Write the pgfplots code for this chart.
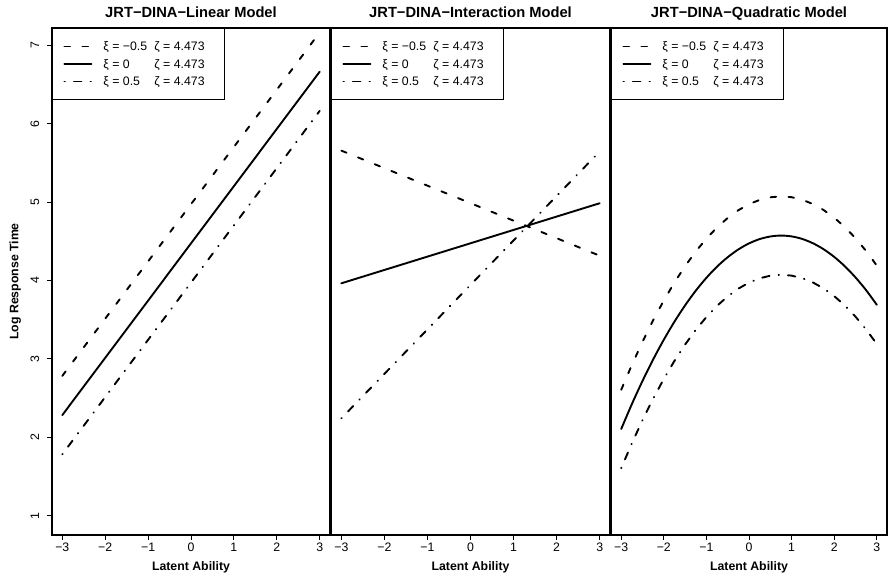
\documentclass[border=0pt]{standalone}
\usepackage{fontspec}
\setmainfont{Liberation Sans}
\usepackage{pgfplots}
\pgfplotsset{compat=1.18}

\newcommand{\lentry}[2]{\makebox[110bp][l]{\makebox[51bp][l]{#1}#2}}
\pgfplotsset{
  panel/.style={
    scale only axis, height=507bp, anchor=south west,
    xmin=-3.24, xmax=3.24, ymin=0.754, ymax=7.22,
    axis line style={line width=1.4bp},
    tick align=outside, xtick pos=left, ytick pos=left,
    major tick length=5bp,
    every tick/.style={black, line width=0.9bp},
    xtick={-3,-2,-1,0,1,2,3},
    xticklabels={−3,−2,−1,0,1,2,3},
    xticklabel style={font=\fontsize{12.3bp}{14bp}\selectfont, anchor=base, inner sep=0pt},
    xticklabel shift=11.4bp,
    title style={at={(0.5,1)}, anchor=base, yshift=4.7bp, inner sep=0pt,
      font=\bfseries\fontsize{14.7bp}{17bp}\selectfont},
    every axis x label/.style={at={(axis description cs:0.5,0)}, anchor=base,
      yshift=-35bp, inner sep=0pt, font=\bfseries\fontsize{12.3bp}{14bp}\selectfont},
    xlabel={Latent Ability},
    legend image code/.code={\draw[#1] (0bp,0bp) -- (27bp,0bp);},
    legend style={at={(0,1)}, anchor=north west, draw=black, line width=1bp,
      fill=white, inner xsep=11bp, inner ysep=9.25bp, row sep=0pt,
      font=\fontsize{12.3bp}{14bp}\selectfont,
      nodes={inner sep=0pt, text height=13.15bp, text depth=4.35bp},
      /tikz/every odd column/.append style={column sep=11bp}},
    legend cell align=left,
  },
  dashedR/.style={black, line width=1.9bp, line cap=round, dash pattern=on 5.6bp off 12.4bp},
  solidR/.style={black, line width=1.9bp, line cap=round},
  dotdashR/.style={black, line width=1.9bp, line cap=round, dash pattern=on 0.5bp off 9bp on 7.5bp off 9bp},
}

\begin{document}
\begin{tikzpicture}
\path[use as bounding box] (0,0) rectangle (888bp,576bp);

% Panel 1: Linear
\begin{axis}[panel, at={(52bp,41bp)}, width=278bp,
  title={JRT−DINA−Linear Model},
  ytick={1,2,3,4,5,6,7},
  yticklabels={1,2,3,4,5,6,7},
  yticklabel style={font=\fontsize{12.3bp}{14bp}\selectfont, rotate=90, anchor=base, inner sep=0pt},
  yticklabel shift=8bp,
  every axis y label/.style={at={(axis description cs:0,0.5)}, xshift=-33.6bp, rotate=90, anchor=base,
    inner sep=0pt, font=\bfseries\fontsize{12.3bp}{14bp}\selectfont},
  ylabel={Log Response Time},
]
\addplot[dashedR] coordinates {(-3,2.783) (3,7.163)};
\addlegendentry{\lentry{ξ = −0.5}{ζ = 4.473}}
\addplot[solidR] coordinates {(-3,2.283) (3,6.663)};
\addlegendentry{\lentry{ξ = 0}{ζ = 4.473}}
\addplot[dotdashR] coordinates {(-3,1.783) (3,6.163)};
\addlegendentry{\lentry{ξ = 0.5}{ζ = 4.473}}
\end{axis}

% Panel 2: Interaction
\begin{axis}[panel, at={(331bp,41bp)}, width=279bp,
  title={JRT−DINA−Interaction Model},
  ytick=\empty,
]
\addplot[dashedR] coordinates {(-3,5.656) (3,4.316)};
\addlegendentry{\lentry{ξ = −0.5}{ζ = 4.473}}
\addplot[solidR] coordinates {(-3,3.964) (3,4.985)};
\addlegendentry{\lentry{ξ = 0}{ζ = 4.473}}
\addplot[dotdashR] coordinates {(-3,2.242) (3,5.645)};
\addlegendentry{\lentry{ξ = 0.5}{ζ = 4.473}}
\end{axis}

% Panel 3: Quadratic
\begin{axis}[panel, at={(611bp,41bp)}, width=276bp,
  title={JRT−DINA−Quadratic Model},
  ytick=\empty,
]
\addplot[dashedR] coordinates {
(-3,2.606) (-2.75,2.924) (-2.5,3.219) (-2.25,3.493) (-2,3.745) (-1.75,3.975)
(-1.5,4.183) (-1.25,4.370) (-1,4.534) (-0.75,4.677) (-0.5,4.797) (-0.25,4.896)
(0,4.973) (0.25,5.028) (0.5,5.061) (0.75,5.073) (1,5.062) (1.25,5.030)
(1.5,4.975) (1.75,4.899) (2,4.801) (2.25,4.681) (2.5,4.539) (2.75,4.376) (3,4.190)};
\addlegendentry{\lentry{ξ = −0.5}{ζ = 4.473}}
\addplot[solidR, smooth] coordinates {
(-3,2.106) (-2.75,2.424) (-2.5,2.719) (-2.25,2.993) (-2,3.245) (-1.75,3.475)
(-1.5,3.683) (-1.25,3.870) (-1,4.034) (-0.75,4.177) (-0.5,4.297) (-0.25,4.396)
(0,4.473) (0.25,4.528) (0.5,4.561) (0.75,4.573) (1,4.562) (1.25,4.530)
(1.5,4.475) (1.75,4.399) (2,4.301) (2.25,4.181) (2.5,4.039) (2.75,3.876) (3,3.690)};
\addlegendentry{\lentry{ξ = 0}{ζ = 4.473}}
\addplot[dotdashR] coordinates {
(-3,1.606) (-2.75,1.924) (-2.5,2.219) (-2.25,2.493) (-2,2.745) (-1.75,2.975)
(-1.5,3.183) (-1.25,3.370) (-1,3.534) (-0.75,3.677) (-0.5,3.797) (-0.25,3.896)
(0,3.973) (0.25,4.028) (0.5,4.061) (0.75,4.073) (1,4.062) (1.25,4.030)
(1.5,3.975) (1.75,3.899) (2,3.801) (2.25,3.681) (2.5,3.539) (2.75,3.376) (3,3.190)};
\addlegendentry{\lentry{ξ = 0.5}{ζ = 4.473}}
\end{axis}
\end{tikzpicture}
\end{document}
